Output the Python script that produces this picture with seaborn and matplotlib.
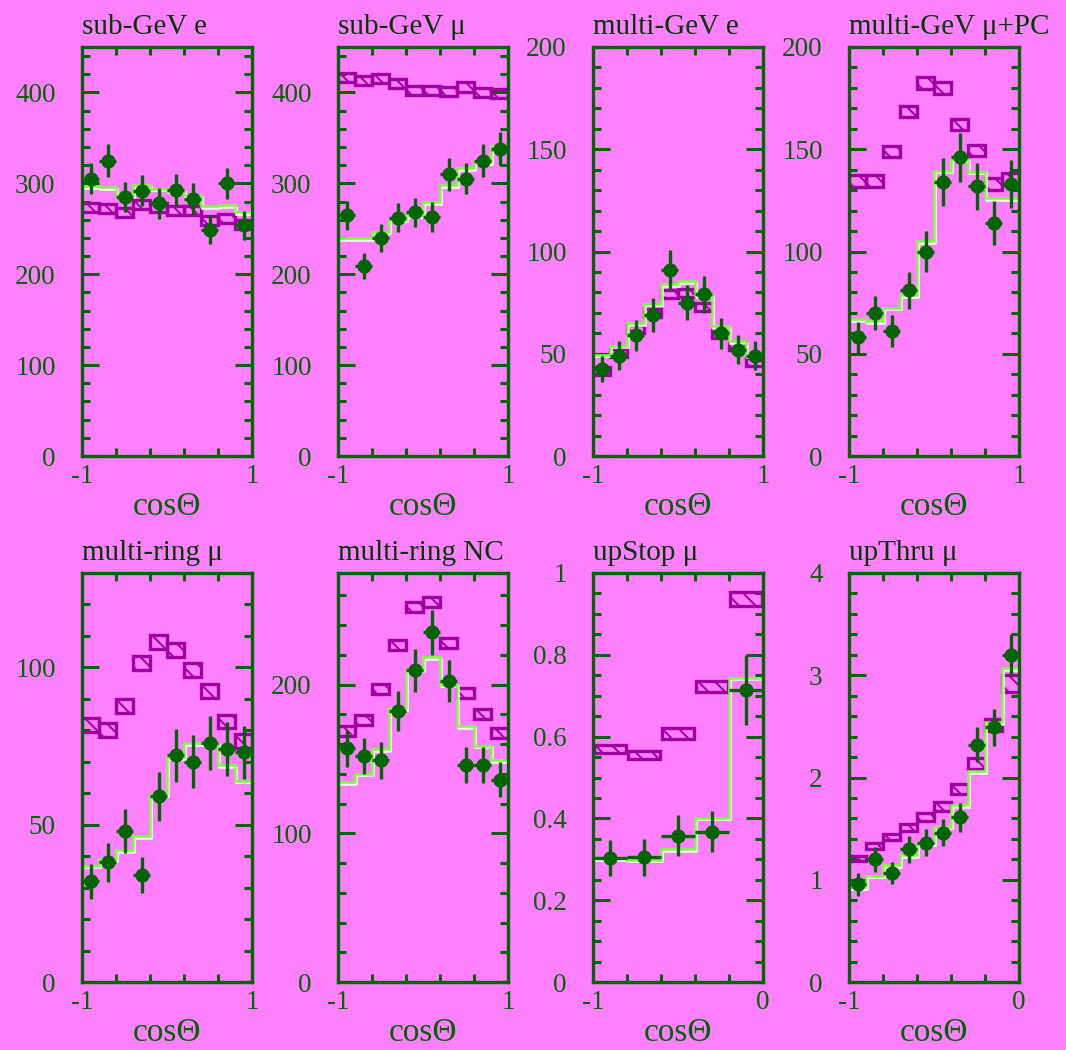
import numpy as np
import matplotlib
matplotlib.use("Agg")
import matplotlib.pyplot as plt
import matplotlib.patheffects as pe
from matplotlib.ticker import MultipleLocator, FixedLocator, FuncFormatter
import seaborn as sns

# ---------------- data ----------------
titles = ["sub-GeV e", "sub-GeV \u03bc", "multi-GeV e", "multi-GeV \u03bc+PC",
          "multi-ring \u03bc", "multi-ring NC", "upStop \u03bc", "upThru \u03bc"]

# sub-GeV e
sge_data = [305, 325, 285, 292, 278, 293, 283, 249, 300, 254]
sge_err = [17, 18, 17, 17, 17, 17, 17, 16, 17, 16]
sge_osc = [297, 296, 287, 298, 294, 292, 287, 275, 276, 268]
sge_noosc = [273, 272, 268, 277, 273, 270, 270, 259, 261, 255]
sge_noosc_err = [5, 5, 5, 5, 5, 5, 5, 5, 5, 5]

# sub-GeV mu
sgm_data = [265, 209, 240, 262, 268, 263, 310, 305, 325, 338]
sgm_err = [16, 14, 15, 16, 16, 16, 18, 17, 18, 18]
sgm_osc = [240, 240, 247, 260, 265, 279, 298, 317, 323, 341]
sgm_noosc = [416, 413, 415, 410, 402, 402, 401, 406, 400, 399]
sgm_noosc_err = [5, 5, 5, 5, 5, 5, 5, 5, 5, 5]

# multi-GeV e
mge_data = [42.5, 49, 59, 69, 91, 75, 79, 60, 52, 49]
mge_err = [6.5, 7, 7.7, 8.3, 9.5, 8.7, 8.9, 7.7, 7.2, 7]
mge_osc = [49.5, 54, 65, 74.5, 84, 85.5, 78.5, 63.5, 56, 49]
mge_noosc = [41.5, 50.5, 62, 70, 79.3, 79.7, 72.7, 59.5, 53.7, 46]
mge_noosc_err = [2, 2, 2, 2, 2, 2, 2, 2, 2, 2]

# multi-GeV mu + PC
mgm_data = [58, 70, 61, 81, 100, 134, 146, 132, 114, 133]
mgm_err = [7.6, 8.4, 7.8, 9, 10, 11.6, 12, 11.5, 10.7, 11.5]
mgm_osc = [67, 66, 72.5, 78.5, 105, 139.5, 145, 139, 126, 126]
mgm_noosc = [134.5, 134.5, 149, 168.5, 182.5, 180, 162, 149.3, 133, 135.5]
mgm_noosc_err = [2.8, 2.8, 2.8, 2.8, 2.8, 2.8, 2.8, 2.8, 2.8, 2.8]

# multi-ring mu
mrm_data = [32, 38, 48, 34, 59, 72, 70, 76, 74, 73]
mrm_err = [5.6, 6.2, 6.9, 5.8, 7.7, 8.5, 8.4, 8.7, 8.6, 8.5]
mrm_osc = [37, 39, 42, 46.3, 59.6, 71.5, 76, 76, 69, 64]
mrm_noosc = [81.7, 80, 87.8, 101.4, 108.2, 105.5, 99.3, 92.6, 82.8, 76.6]
mrm_noosc_err = [2.2, 2.2, 2.2, 2.2, 2.2, 2.2, 2.2, 2.2, 2.2, 2.2]

# multi-ring NC
mrn_data = [157, 152, 149, 182, 209.5, 235, 202.5, 146, 146, 136]
mrn_err = [12.5, 12.3, 12.2, 13.5, 14.5, 15.3, 14.2, 12.1, 12.1, 11.7]
mrn_osc = [134.5, 140, 156.5, 184, 210, 218.5, 200, 172, 159, 149]
mrn_noosc = [168.5, 176, 197, 226.5, 252, 255.5, 228, 194.5, 180, 167.7]
mrn_noosc_err = [3.4, 3.4, 3.4, 3.4, 3.4, 3.4, 3.4, 3.4, 3.4, 3.4]

# upward stopping mu
ups_data = [0.303, 0.305, 0.358, 0.367, 0.714]
ups_err = [0.045, 0.045, 0.05, 0.05, 0.085]
ups_osc = [0.303, 0.299, 0.325, 0.402, 0.744]
ups_noosc = [0.569, 0.556, 0.608, 0.722, 0.936]
ups_noosc_err = [0.01, 0.01, 0.014, 0.014, 0.017]

# upward through-going mu
upt_data = [0.954, 1.20, 1.066, 1.296, 1.362, 1.46, 1.61, 2.32, 2.49, 3.20]
upt_err = [0.11, 0.12, 0.11, 0.13, 0.13, 0.13, 0.14, 0.17, 0.18, 0.2]
upt_osc = [0.93, 1.04, 1.14, 1.24, 1.355, 1.52, 1.73, 2.06, 2.54, 3.07]
upt_noosc = [1.207, 1.33, 1.42, 1.51, 1.61, 1.72, 1.89, 2.14, 2.51, 2.92]
upt_noosc_err = [0.025, 0.03, 0.03, 0.035, 0.04, 0.045, 0.05, 0.055, 0.06, 0.08]

# axis settings per panel
x_ranges = [(-1, 1)] * 6 + [(-1, 0)] * 2
x_ticklabels = [["-1", "1"]] * 6 + [["-1", "0"]] * 2
x_minor = [[-0.6, -0.2, 0.2, 0.6]] * 6 + [[-0.8, -0.6, -0.4, -0.2]] * 2
y_tops = [450, 450, 200, 200, 130, 275, 1.0, 4.0]
y_major = [100, 100, 50, 50, 50, 100, 0.2, 1.0]
y_minor = [20, 20, 10, 10, 10, 20, 0.05, 0.2]

panels = [
    (sge_data, sge_err, sge_osc, sge_noosc, sge_noosc_err),
    (sgm_data, sgm_err, sgm_osc, sgm_noosc, sgm_noosc_err),
    (mge_data, mge_err, mge_osc, mge_noosc, mge_noosc_err),
    (mgm_data, mgm_err, mgm_osc, mgm_noosc, mgm_noosc_err),
    (mrm_data, mrm_err, mrm_osc, mrm_noosc, mrm_noosc_err),
    (mrn_data, mrn_err, mrn_osc, mrn_noosc, mrn_noosc_err),
    (ups_data, ups_err, ups_osc, ups_noosc, ups_noosc_err),
    (upt_data, upt_err, upt_osc, upt_noosc, upt_noosc_err),
]

# ---------------- style ----------------
BG = "#FF80FF"
DARK = "#006400"
TITLE_C = "#003A00"
LIGHT = "#7CFF3A"
MAG = "#A000A0"

sns.set_theme(style="ticks", rc={
    "axes.facecolor": BG, "figure.facecolor": BG,
    "axes.edgecolor": DARK, "axes.linewidth": 2.2,
    "hatch.linewidth": 1.4, "hatch.color": MAG,
})
plt.rcParams["font.family"] = ["Liberation Serif", "DejaVu Serif"]

W, H = 1066, 1050
fig = plt.figure(figsize=(W / 100, H / 100), dpi=100)

col_left = [82, 338, 593, 849]
ax_w = 170
row_top = [47, 573]
ax_h = 409

fmt = FuncFormatter(lambda v, p: "%g" % round(v, 6))

for i, (data, err, osc, noosc, nerr) in enumerate(panels):
    r, c = divmod(i, 4)
    left = col_left[c] / W
    bottom = 1 - (row_top[r] + ax_h) / H
    ax = fig.add_axes([left, bottom, ax_w / W, ax_h / H])
    lo, hi = x_ranges[i]
    n = len(data)
    edges = np.linspace(lo, hi, n + 1)
    centers = 0.5 * (edges[:-1] + edges[1:])
    bw = edges[1] - edges[0]
    data = np.asarray(data, float)
    noosc = np.asarray(noosc, float)
    nerr = np.asarray(nerr, float)

    # no-oscillation expectation: hatched boxes
    ax.bar(centers, 2 * nerr, bottom=noosc - nerr, width=bw * 0.97,
           facecolor="none", edgecolor=MAG, linewidth=2.4,
           hatch="\\\\", zorder=2)
    # oscillation best fit: light green step histogram with white shadow
    ax.stairs(osc, edges, baseline=None, color=LIGHT, linewidth=1.8, zorder=3,
              path_effects=[pe.SimpleLineShadow(offset=(1.0, -1.2),
                                                shadow_color="white", alpha=1.0),
                            pe.Normal()])
    # data points
    ax.errorbar(centers, data, yerr=err, xerr=bw / 2, fmt="none",
                ecolor=DARK, elinewidth=2.4, capsize=0, zorder=4)
    sns.scatterplot(x=centers, y=data, ax=ax, color=DARK, s=105,
                    linewidth=0, zorder=5, legend=False)

    ax.set_xlim(lo, hi)
    ax.set_ylim(0, y_tops[i])
    ax.set_xticks([lo, hi])
    ax.set_xticklabels(x_ticklabels[i])
    ax.xaxis.set_minor_locator(FixedLocator(x_minor[i]))
    ax.yaxis.set_major_locator(MultipleLocator(y_major[i]))
    ax.yaxis.set_minor_locator(MultipleLocator(y_minor[i]))
    ax.yaxis.set_major_formatter(fmt)

    ax.tick_params(which="both", direction="in", top=True, right=True,
                   color=DARK, width=2.2, labelsize=19.5, labelcolor=DARK)
    ax.tick_params(axis="y", which="major", length=12, pad=19)
    ax.tick_params(axis="y", which="minor", length=6)
    ax.tick_params(axis="x", which="minor", length=6)
    ax.tick_params(axis="x", which="major", length=0, pad=6)
    for s in ax.spines.values():
        s.set_color(DARK)
        s.set_linewidth(2.4)
        s.set_zorder(6)

    ax.set_xlabel("cos\u0398", fontsize=24, color=DARK)
    ax.xaxis.set_label_coords(0.5, -0.088)
    ax.set_ylabel("")
    ax.set_title(titles[i], loc="left", fontsize=21, color=TITLE_C, pad=9)

fig.savefig("out.png", dpi=100, facecolor=BG)
